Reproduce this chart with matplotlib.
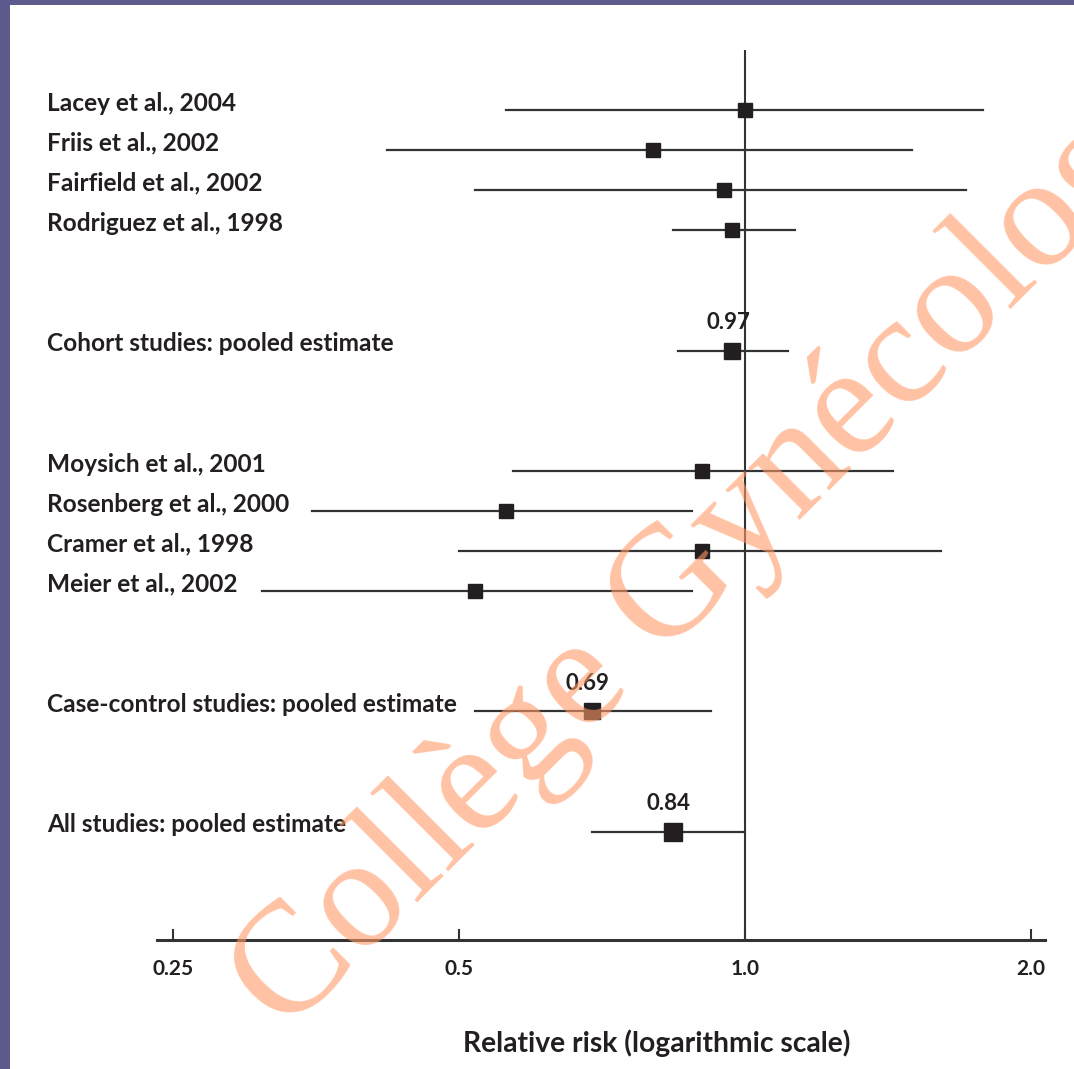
import numpy as np
import matplotlib
matplotlib.use("Agg")
import matplotlib.pyplot as plt
from matplotlib.patches import Rectangle
from matplotlib.ticker import FixedLocator, FixedFormatter, NullLocator

# Data
studies = [
    "Lacey et al., 2004",
    "Friis et al., 2002",
    "Fairfield et al., 2002",
    "Rodriguez et al., 1998",
    "Cohort studies: pooled estimate",
    "Moysich et al., 2001",
    "Rosenberg et al., 2000",
    "Cramer et al., 1998",
    "Meier et al., 2002",
    "Case-control studies: pooled estimate",
    "All studies: pooled estimate",
]
rr = [1.00, 0.80, 0.95, 0.97, 0.97, 0.90, 0.56, 0.90, 0.52, 0.69, 0.84]
ci_low = [0.56, 0.42, 0.52, 0.84, 0.85, 0.57, 0.35, 0.50, 0.31, 0.52, 0.69]
ci_high = [1.78, 1.50, 1.71, 1.13, 1.11, 1.43, 0.88, 1.61, 0.88, 0.92, 1.00]
pooled = [False, False, False, False, True, False, False, False, False, True, True]
tick_vals = [0.25, 0.5, 1.0, 2.0]
tick_labels = ["0.25", "0.5", "1.0", "2.0"]

# layout: row slots (gaps between groups)
rows = [0, 1, 2, 3, 6, 9, 10, 11, 12, 15, 18]

W, H = 1074, 1069
DPI = 100
FONT = "Lato"
INK = "#231f20"

fig = plt.figure(figsize=(W / DPI, H / DPI), dpi=DPI)
fig.patch.set_facecolor("white")

# slide border (left and top bands)
fig.patches.append(Rectangle((0, 0), 10 / W, 1, transform=fig.transFigure,
                             facecolor="#5d5b8e", edgecolor="none", zorder=0))
fig.patches.append(Rectangle((0, 1 - 5 / H), 1, 5 / H, transform=fig.transFigure,
                             facecolor="#5d5b8e", edgecolor="none", zorder=0))

ax_left, ax_right = 157 / W, 1045 / W
ax_top, ax_bot = 1 - 50 / H, 1 - 940 / H
ax = fig.add_axes([ax_left, ax_bot, ax_right - ax_left, ax_top - ax_bot])
ax.set_facecolor("none")
ax.set_xscale("log", base=2)
ax.set_xlim(2 ** -2.056, 2 ** 1.049)
ax.set_ylim(20.7, -1.5)

for s in ["top", "right", "left"]:
    ax.spines[s].set_visible(False)
ax.spines["bottom"].set_linewidth(2.2)
ax.spines["bottom"].set_color("#333333")
ax.yaxis.set_visible(False)

ax.xaxis.set_major_locator(FixedLocator(tick_vals))
ax.xaxis.set_major_formatter(FixedFormatter(tick_labels))
ax.xaxis.set_minor_locator(NullLocator())
ax.tick_params(axis="x", direction="in", length=8, width=1.5, color="#333333",
               pad=14, labelsize=15, labelcolor=INK)
for lab in ax.get_xticklabels():
    lab.set_fontfamily(FONT)
    lab.set_fontweight("bold")

# line of no effect
ax.axvline(1.0, color="#333333", lw=1.5, zorder=1)

for name, y, m, lo, hi, p in zip(studies, rows, rr, ci_low, ci_high, pooled):
    ax.plot([lo, hi], [y, y], color="#333333", lw=1.6, zorder=2)
    if p:
        ms = 13 if name.startswith("All") else 11
    else:
        ms = 9.5
    ax.plot(m, y, marker="s", ms=ms, color=INK, zorder=3)
    ax.annotate(name, xy=(47 / W, y), xycoords=("figure fraction", "data"),
                xytext=(0, 5), textcoords="offset points",
                ha="left", va="center", fontsize=17.6, fontweight="bold",
                family=FONT, color=INK)
    if p:
        ax.annotate(f"{m:.2f}", xy=(m, y), xytext=(-3, 20), textcoords="offset points",
                    ha="center", va="center", fontsize=16, fontweight="bold",
                    family=FONT, color=INK)

fig.text(657 / W, 1 - 1043 / H, "Relative risk (logarithmic scale)",
         ha="center", va="center", fontsize=20.3, fontweight="bold",
         family=FONT, color=INK)

# watermark
fig.text(285 / W, 1 - 1035 / H, "Collège Gynécologie", rotation=45,
         rotation_mode="anchor", ha="left", va="baseline",
         fontsize=114, family="Liberation Serif", color="#ff9966", alpha=0.6,
         zorder=10)

fig.savefig("out.png", dpi=DPI, facecolor="white")
